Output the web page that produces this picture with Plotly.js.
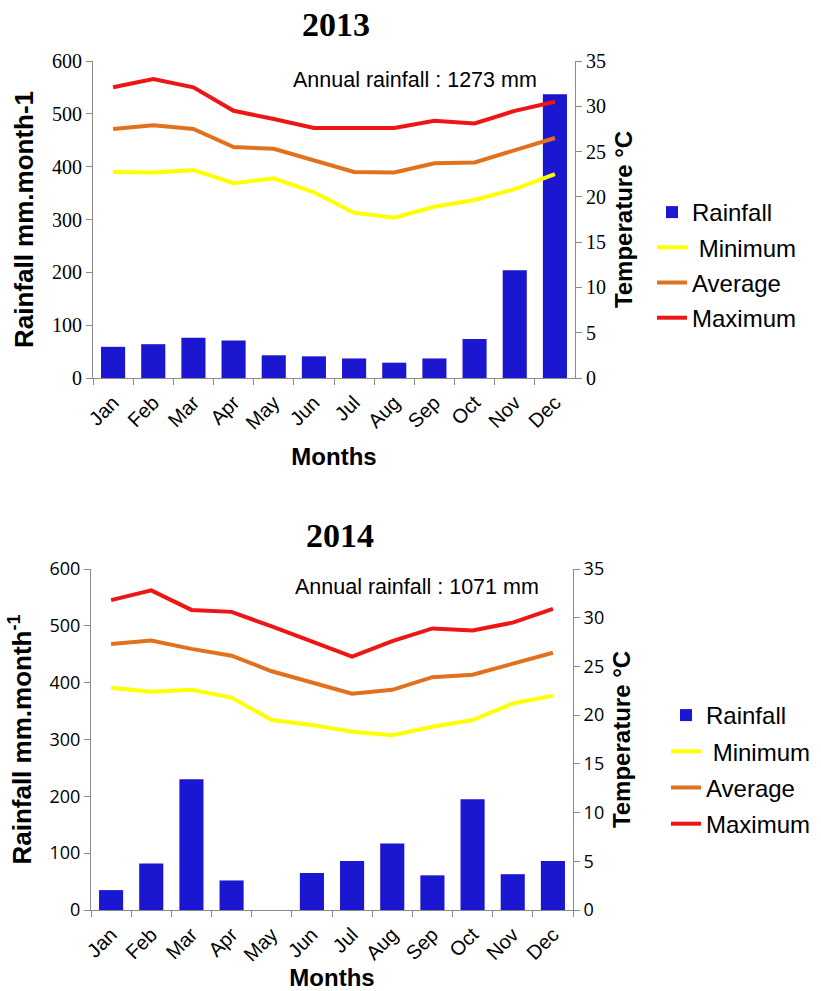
<!DOCTYPE html>
<html>
<head>
<meta charset="utf-8">
<script src="https://cdn.plot.ly/plotly-3.0.1.min.js"></script>
<style>html,body{margin:0;padding:0;background:#fff;}</style>
</head>
<body>
<div id="chart" style="width:821px;height:991px;"></div>
<script>
var months = ['Jan','Feb','Mar','Apr','May','Jun','Jul','Aug','Sep','Oct','Nov','Dec'];

// 2013
var rain2013 = [59, 64, 76, 71, 43, 41, 37, 29, 37, 74, 204, 537];
var min2013  = [22.75, 22.7, 22.95, 21.5, 22.05, 20.5, 18.25, 17.7, 18.9, 19.65, 20.85, 22.5];
var avg2013  = [27.5, 27.9, 27.5, 25.5, 25.3, 24.0, 22.75, 22.7, 23.7, 23.8, 25.1, 26.5];
var max2013  = [32.1, 33.0, 32.1, 29.5, 28.6, 27.6, 27.6, 27.6, 28.4, 28.1, 29.5, 30.5];

// 2014
var rain2014 = [35, 82, 230, 52, 0, 65, 86, 117, 61, 195, 63, 86];
var min2014  = [22.8, 22.4, 22.6, 21.8, 19.5, 19.0, 18.3, 17.95, 18.8, 19.5, 21.2, 22.0];
var avg2014  = [27.3, 27.65, 26.8, 26.1, 24.5, 23.3, 22.2, 22.6, 23.9, 24.15, 25.3, 26.4];
var max2014  = [31.8, 32.8, 30.8, 30.6, 29.1, 27.6, 26.0, 27.6, 28.9, 28.7, 29.5, 30.9];

var legendNames = ['Rainfall', '\u00a0Minimum', 'Average', 'Maximum'];
var annualText = ['Annual rainfall : 1273 mm', 'Annual rainfall : 1071 mm'];
var yearTitles = ['2013', '2014'];

var BLUE = '#1B16CF', YEL = '#FFFF00', ORG = '#E2711D', RED = '#EE1515';
var W = 821, H = 991;

function tr(xa, ya, ya2, rain, mn, av, mx, lg) {
  return [
    {type:'bar', x:months, y:rain, xaxis:xa, yaxis:ya, name:legendNames[0], marker:{color:BLUE}, legend:lg, legendgroup:lg+'a'},
    {type:'scatter', mode:'lines', x:months, y:mn, xaxis:xa, yaxis:ya2, name:legendNames[1], line:{color:YEL, width:4}, legend:lg, legendgroup:lg+'b'},
    {type:'scatter', mode:'lines', x:months, y:av, xaxis:xa, yaxis:ya2, name:legendNames[2], line:{color:ORG, width:4}, legend:lg, legendgroup:lg+'c'},
    {type:'scatter', mode:'lines', x:months, y:mx, xaxis:xa, yaxis:ya2, name:legendNames[3], line:{color:RED, width:4}, legend:lg, legendgroup:lg+'d'}
  ];
}

var data = tr('x','y','y2', rain2013, min2013, avg2013, max2013, 'legend')
   .concat(tr('x2','y3','y4', rain2014, min2014, avg2014, max2014, 'legend2'));

var serif = 'Liberation Serif, Times New Roman, serif';
var sans = 'Liberation Sans, Arial, sans-serif';
var sans2 = 'Open Sans, Noto Sans, sans-serif';

function xax(dom, anchor, standoff) {
  return {domain:dom, anchor:anchor, type:'category', showline:true, linecolor:'#8a8a8a', linewidth:1,
    ticks:'outside', tickson:'boundaries', ticklen:6, tickcolor:'#8a8a8a', tickangle:-45, ticklabelstandoff:4,
    tickfont:{family:sans, size:20, color:'#000'}, showgrid:false, zeroline:false,
    title:{text:'<b>Months</b>', font:{family:sans, size:24, color:'#000'}, standoff:standoff}};
}
function yax(dom, anchor, range, dtick, font, title, side, overlay, tsize) {
  var o = {domain:dom, anchor:anchor, range:range, dtick:dtick, tick0:0, showline:true, linecolor:'#8a8a8a', linewidth:1,
    ticks:'outside', ticklen:6, tickcolor:'#8a8a8a', tickfont:font, showgrid:false, zeroline:false,
    title:{text:title, font:{family:sans, size:tsize, color:'#000'}, standoff:10}};
  if (side) { o.side = side; }
  if (overlay) { o.overlaying = overlay; }
  return o;
}

var xd1 = [93/W, 575/W], yd1 = [1-378/H, 1-61/H];
var xd2 = [91/W, 573/W], yd2 = [1-910/H, 1-569/H];
var tf1 = {family:serif, size:20, color:'#000'};
var tf2 = {family:sans2, size:18, color:'#000'};
var lf = {family:sans, size:24, color:'#000'};

var layout = {
  width:W, height:H, margin:{l:0, r:0, t:0, b:0}, paper_bgcolor:'#fff', plot_bgcolor:'#fff',
  bargap:0.4, showlegend:true,
  xaxis: xax(xd1, 'y', 15),
  yaxis: yax(yd1, 'x', [0,600], 100, tf1, '<b>Rainfall mm.month-1</b>', null, null, 26),
  yaxis2: yax(yd1, 'x', [0,35], 5, tf1, '<b>Temperature °C</b>', 'right', 'y', 24),
  xaxis2: xax(xd2, 'y3', 8),
  yaxis3: yax(yd2, 'x2', [0,600], 100, tf2, '<b>Rainfall mm.month<sup>-1</sup></b>', null, null, 26),
  yaxis4: yax(yd2, 'x2', [0,35], 5, tf2, '<b>Temperature °C</b>', 'right', 'y3', 24),
  legend: {x:652/W, y:1-190/H, xanchor:'left', yanchor:'top', font:lf, tracegroupgap:1, bgcolor:'rgba(0,0,0,0)', itemwidth:30},
  legend2: {x:666/W, y:1-693/H, xanchor:'left', yanchor:'top', font:lf, tracegroupgap:2, bgcolor:'rgba(0,0,0,0)', itemwidth:30},
  annotations: [
    {xref:'paper', yref:'paper', x:336/W, y:1-24/H, text:'<b>'+yearTitles[0]+'</b>', showarrow:false, font:{family:serif, size:34, color:'#000'}, xanchor:'center', yanchor:'middle'},
    {xref:'paper', yref:'paper', x:340/W, y:1-535/H, text:'<b>'+yearTitles[1]+'</b>', showarrow:false, font:{family:serif, size:34, color:'#000'}, xanchor:'center', yanchor:'middle'},
    {xref:'paper', yref:'paper', x:539/W, y:1-80/H, text:annualText[0], showarrow:false, font:{family:sans, size:21.5, color:'#000'}, xanchor:'right', yanchor:'middle'},
    {xref:'paper', yref:'paper', x:541/W, y:1-587/H, text:annualText[1], showarrow:false, font:{family:sans, size:21.5, color:'#000'}, xanchor:'right', yanchor:'middle'}
  ]
};

Plotly.newPlot('chart', data, layout, {displayModeBar:false, staticPlot:true});
</script>
</body>
</html>
